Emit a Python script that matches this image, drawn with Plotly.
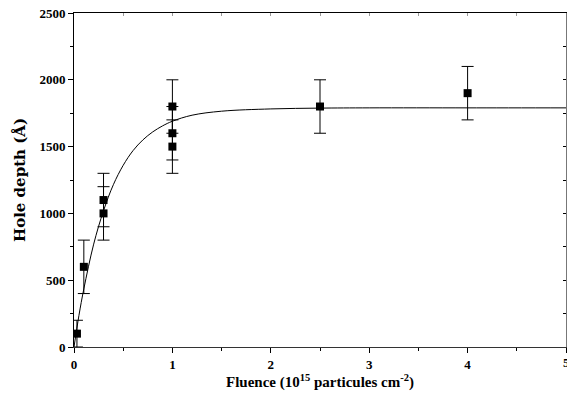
import plotly.graph_objects as go

# Measured data
fluence = [0.03, 0.1, 0.3, 0.3, 1.0, 1.0, 1.0, 2.5, 4.0]
depth = [100, 600, 1000, 1100, 1800, 1600, 1500, 1800, 1900]
depth_err = [100, 200, 200, 200, 200, 200, 200, 200, 200]

# Fitted curve
fit_x = [0, 0.05, 0.1, 0.2, 0.3, 0.4, 0.5, 0.6, 0.7, 0.8, 0.9, 1.0, 1.2, 1.5, 2.0, 2.5, 3.0, 4.0, 5.0]
fit_y = [0, 235, 435, 770, 1020, 1215, 1360, 1470, 1550, 1610, 1655, 1690, 1735, 1765, 1782, 1788, 1790, 1790, 1790]

x_ticks = [0, 1, 2, 3, 4]
x_last_tick = 5

font_family = "Liberation Serif, Times New Roman, serif"

fig = go.Figure()
fig.add_trace(go.Scatter(
    x=fit_x, y=fit_y, mode="lines", line=dict(color="black", width=1, shape="spline"),
    showlegend=False, hoverinfo="skip"))
fig.add_trace(go.Scatter(
    x=fluence, y=depth, mode="markers",
    marker=dict(symbol="square", size=8, color="black"),
    error_y=dict(type="data", array=depth_err, visible=True, color="black", thickness=1, width=6),
    showlegend=False))
# invisible trace for the mirrored (top/right) axes
fig.add_trace(go.Scatter(x=[0], y=[0], xaxis="x2", yaxis="y2", mode="markers",
                         marker=dict(opacity=0), showlegend=False, hoverinfo="skip"))

fig.update_layout(
    width=567, height=394,
    margin=dict(l=74, r=1, t=13, b=47),
    paper_bgcolor="white", plot_bgcolor="white",
    font=dict(family=font_family, color="black"),
    xaxis=dict(range=[0, 5], tickvals=x_ticks + [x_last_tick],
               ticktext=[f"<b>{v}</b>" for v in x_ticks] + [""],
               ticks="outside", ticklen=5, tickcolor="black",
               minor=dict(dtick=0.5, ticks="outside", ticklen=3, tickcolor="black"),
               showline=True, linecolor="#333", linewidth=1, showgrid=False, zeroline=False,
               tickfont=dict(family=font_family, size=13, color="black"),
               title=dict(text="<b>Fluence (10<sup>15</sup> particules cm<sup>-2</sup>)</b>",
                          font=dict(family=font_family, size=15, color="black"), standoff=4)),
    yaxis=dict(range=[0, 2500], dtick=500, tick0=0, ticks="outside", ticklen=5, tickcolor="black",
               tickprefix="<b>", ticksuffix="</b>",
               minor=dict(dtick=250, ticks="outside", ticklen=3, tickcolor="black"),
               showline=True, linecolor="black", linewidth=1, showgrid=False, zeroline=False,
               tickfont=dict(family=font_family, size=13, color="black"),
               title=dict(text="<b>Hole depth (Å)</b>",
                          font=dict(family="DejaVu Serif", size=15, color="black"), standoff=10)),
    xaxis2=dict(range=[0, 5], overlaying="x", side="top", dtick=0.5, ticks="inside", ticklen=3,
                tickcolor="#999", showticklabels=False, showline=True, linecolor="black",
                linewidth=1, showgrid=False, zeroline=False),
    yaxis2=dict(range=[0, 2500], overlaying="y", side="right", dtick=250, ticks="inside", ticklen=3,
                tickcolor="black", showticklabels=False, showline=True, linecolor="#777",
                linewidth=1, showgrid=False, zeroline=False),
    annotations=[dict(x=x_last_tick, y=0, xref="x", yref="paper", text=f"<b>{x_last_tick}</b>",
                      showarrow=False, xanchor="center", yanchor="top", yshift=-6,
                      font=dict(family=font_family, size=13, color="black"))],
)

fig.write_html("out.html")
